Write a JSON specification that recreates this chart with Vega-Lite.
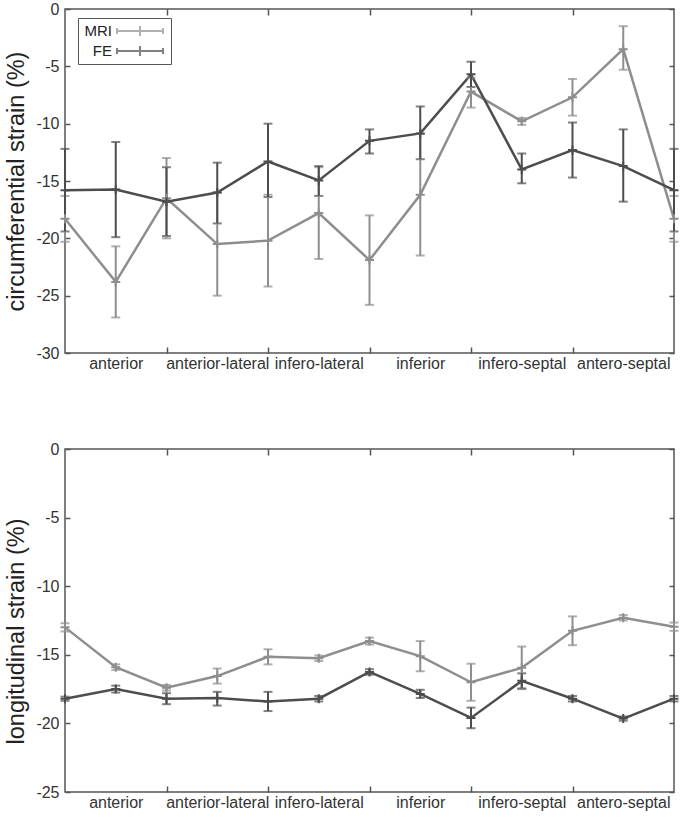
{
  "$schema": "https://vega.github.io/schema/vega-lite/v6.json",
  "background": "white",
  "padding": {"left": 4, "top": 0, "right": 2, "bottom": 0},
  "spacing": 68,
  "datasets": {
    "circ": [
      {"i": 0, "s": "MRI", "m": -18.3, "lo": -20.3, "hi": -16.3},
      {"i": 1, "s": "MRI", "m": -23.8, "lo": -26.9, "hi": -20.7},
      {"i": 2, "s": "MRI", "m": -16.5, "lo": -20.0, "hi": -13.0},
      {"i": 3, "s": "MRI", "m": -20.5, "lo": -25.0, "hi": -16.0},
      {"i": 4, "s": "MRI", "m": -20.2, "lo": -24.2, "hi": -16.2},
      {"i": 5, "s": "MRI", "m": -17.8, "lo": -21.8, "hi": -13.8},
      {"i": 6, "s": "MRI", "m": -21.9, "lo": -25.8, "hi": -18.0},
      {"i": 7, "s": "MRI", "m": -16.2, "lo": -21.5, "hi": -10.9},
      {"i": 8, "s": "MRI", "m": -7.2, "lo": -8.6, "hi": -6.0},
      {"i": 9, "s": "MRI", "m": -9.8, "lo": -10.1, "hi": -9.5},
      {"i": 10, "s": "MRI", "m": -7.7, "lo": -9.3, "hi": -6.1},
      {"i": 11, "s": "MRI", "m": -3.5, "lo": -5.3, "hi": -1.5},
      {"i": 12, "s": "MRI", "m": -18.3, "lo": -20.3, "hi": -16.3},
      {"i": 0, "s": "FE", "m": -15.8, "lo": -19.4, "hi": -12.2},
      {"i": 1, "s": "FE", "m": -15.75, "lo": -19.9, "hi": -11.6},
      {"i": 2, "s": "FE", "m": -16.8, "lo": -19.8, "hi": -13.8},
      {"i": 3, "s": "FE", "m": -16.0, "lo": -18.7, "hi": -13.4},
      {"i": 4, "s": "FE", "m": -13.3, "lo": -16.4, "hi": -10.0},
      {"i": 5, "s": "FE", "m": -14.95, "lo": -16.3, "hi": -13.7},
      {"i": 6, "s": "FE", "m": -11.5, "lo": -12.6, "hi": -10.5},
      {"i": 7, "s": "FE", "m": -10.85, "lo": -13.1, "hi": -8.5},
      {"i": 8, "s": "FE", "m": -5.7, "lo": -6.8, "hi": -4.6},
      {"i": 9, "s": "FE", "m": -14.0, "lo": -15.2, "hi": -12.6},
      {"i": 10, "s": "FE", "m": -12.3, "lo": -14.7, "hi": -9.9},
      {"i": 11, "s": "FE", "m": -13.7, "lo": -16.8, "hi": -10.5},
      {"i": 12, "s": "FE", "m": -15.8, "lo": -19.4, "hi": -12.2}
    ],
    "long": [
      {"i": 0, "s": "MRI", "m": -13.0, "lo": -13.3, "hi": -12.7},
      {"i": 1, "s": "MRI", "m": -15.9, "lo": -16.1, "hi": -15.7},
      {"i": 2, "s": "MRI", "m": -17.4, "lo": -17.6, "hi": -17.2},
      {"i": 3, "s": "MRI", "m": -16.55, "lo": -17.1, "hi": -16.0},
      {"i": 4, "s": "MRI", "m": -15.15, "lo": -15.7, "hi": -14.6},
      {"i": 5, "s": "MRI", "m": -15.25, "lo": -15.45, "hi": -15.05},
      {"i": 6, "s": "MRI", "m": -14.0, "lo": -14.25, "hi": -13.75},
      {"i": 7, "s": "MRI", "m": -15.1, "lo": -16.2, "hi": -14.0},
      {"i": 8, "s": "MRI", "m": -17.0, "lo": -18.35, "hi": -15.65},
      {"i": 9, "s": "MRI", "m": -15.95, "lo": -17.5, "hi": -14.4},
      {"i": 10, "s": "MRI", "m": -13.25, "lo": -14.3, "hi": -12.2},
      {"i": 11, "s": "MRI", "m": -12.3, "lo": -12.5, "hi": -12.1},
      {"i": 12, "s": "MRI", "m": -12.95, "lo": -13.25, "hi": -12.65},
      {"i": 0, "s": "FE", "m": -18.2, "lo": -18.35, "hi": -18.05},
      {"i": 1, "s": "FE", "m": -17.5, "lo": -17.75, "hi": -17.25},
      {"i": 2, "s": "FE", "m": -18.2, "lo": -18.6, "hi": -17.8},
      {"i": 3, "s": "FE", "m": -18.15, "lo": -18.7, "hi": -17.7},
      {"i": 4, "s": "FE", "m": -18.4, "lo": -19.1, "hi": -17.7},
      {"i": 5, "s": "FE", "m": -18.2, "lo": -18.4, "hi": -18.0},
      {"i": 6, "s": "FE", "m": -16.25, "lo": -16.45, "hi": -16.05},
      {"i": 7, "s": "FE", "m": -17.85, "lo": -18.15, "hi": -17.55},
      {"i": 8, "s": "FE", "m": -19.6, "lo": -20.35, "hi": -18.85},
      {"i": 9, "s": "FE", "m": -16.9, "lo": -17.45, "hi": -16.35},
      {"i": 10, "s": "FE", "m": -18.2, "lo": -18.4, "hi": -18.0},
      {"i": 11, "s": "FE", "m": -19.65, "lo": -19.8, "hi": -19.5},
      {"i": 12, "s": "FE", "m": -18.2, "lo": -18.4, "hi": -18.0}
    ]
  },
  "vconcat": [
    {
      "width": 609,
      "height": 344,
      "data": {"name": "circ"},
      "layer": [
        {
          "mark": {"type": "line", "strokeWidth": 2.5, "clip": false},
          "encoding": {
            "x": {"field": "i", "type": "quantitative",
              "scale": {"domain": [0, 12], "nice": false, "zero": false},
              "axis": {"orient": "bottom", "title": null, "values": [1, 3, 5, 7, 9, 11], "ticks": false, "labelPadding": 2,
                "labelExpr": "datum.value==1?'anterior':datum.value==3?'anterior-lateral':datum.value==5?'infero-lateral':datum.value==7?'inferior':datum.value==9?'infero-septal':'antero-septal'"}},
            "y": {"field": "m", "type": "quantitative",
              "scale": {"domain": [-30, 0], "nice": false, "zero": false},
              "axis": {"orient": "left", "values": [-30, -25, -20, -15, -10, -5, 0], "title": "circumferential strain (%)", "tickSize": -5, "labelPadding": 11,
                "labelExpr": "toString(datum.value)"}},
            "color": {"field": "s", "type": "nominal",
              "scale": {"domain": ["MRI", "FE"], "range": ["#8e8e8e", "#4d4d4d"]},
              "legend": {"orient": "none", "legendX": 13, "legendY": 9}}
          }
        },
        {
          "mark": {"type": "errorbar", "ticks": {"size": 9, "thickness": 2}, "thickness": 2},
          "encoding": {
            "x": {"field": "i", "type": "quantitative",
              "axis": {"orient": "bottom", "title": null, "values": [2, 4, 6, 8, 10], "labels": false, "tickSize": -6}},
            "y": {"field": "lo", "type": "quantitative",
              "axis": {"orient": "right", "title": null, "values": [-30, -25, -20, -15, -10, -5, 0], "labels": false, "tickSize": -5}},
            "y2": {"field": "hi"},
            "color": {"field": "s", "type": "nominal"}
          }
        },
        {
          "mark": {"type": "point", "shape": "M-1,0H1M0,-1V1", "size": 81, "strokeWidth": 2, "filled": false, "opacity": 1},
          "encoding": {
            "x": {"field": "i", "type": "quantitative",
              "axis": {"orient": "top", "title": null, "values": [2, 4, 6, 8, 10], "labels": false, "tickSize": -6}},
            "y": {"field": "m", "type": "quantitative", "axis": null},
            "color": {"field": "s", "type": "nominal"}
          }
        }
      ],
      "resolve": {"axis": {"x": "independent", "y": "independent"}}
    },
    {
      "width": 609,
      "height": 343,
      "data": {"name": "long"},
      "layer": [
        {
          "mark": {"type": "line", "strokeWidth": 2.5, "clip": false},
          "encoding": {
            "x": {"field": "i", "type": "quantitative",
              "scale": {"domain": [0, 12], "nice": false, "zero": false},
              "axis": {"orient": "bottom", "title": null, "values": [1, 3, 5, 7, 9, 11], "ticks": false, "labelPadding": 2,
                "labelExpr": "datum.value==1?'anterior':datum.value==3?'anterior-lateral':datum.value==5?'infero-lateral':datum.value==7?'inferior':datum.value==9?'infero-septal':'antero-septal'"}},
            "y": {"field": "m", "type": "quantitative",
              "scale": {"domain": [-25, 0], "nice": false, "zero": false},
              "axis": {"orient": "left", "values": [-25, -20, -15, -10, -5, 0], "title": "longitudinal strain (%)", "tickSize": -5, "labelPadding": 11,
                "labelExpr": "toString(datum.value)", "titleY": 182}},
            "color": {"field": "s", "type": "nominal",
              "scale": {"domain": ["MRI", "FE"], "range": ["#8e8e8e", "#4d4d4d"]},
              "legend": {"orient": "none", "legendX": 13, "legendY": 6}}
          }
        },
        {
          "mark": {"type": "errorbar", "ticks": {"size": 9, "thickness": 2}, "thickness": 2},
          "encoding": {
            "x": {"field": "i", "type": "quantitative",
              "axis": {"orient": "bottom", "title": null, "values": [2, 4, 6, 8, 10], "labels": false, "tickSize": -6}},
            "y": {"field": "lo", "type": "quantitative",
              "axis": {"orient": "right", "title": null, "values": [-25, -20, -15, -10, -5, 0], "labels": false, "tickSize": -5}},
            "y2": {"field": "hi"},
            "color": {"field": "s", "type": "nominal"}
          }
        },
        {
          "mark": {"type": "point", "shape": "M-1,0H1M0,-1V1", "size": 81, "strokeWidth": 2, "filled": false, "opacity": 1},
          "encoding": {
            "x": {"field": "i", "type": "quantitative",
              "axis": {"orient": "top", "title": null, "values": [2, 4, 6, 8, 10], "labels": false, "tickSize": -6}},
            "y": {"field": "m", "type": "quantitative", "axis": null},
            "color": {"field": "s", "type": "nominal"}
          }
        }
      ],
      "resolve": {"axis": {"x": "independent", "y": "independent"}}
    }
  ],
  "config": {
    "font": "Liberation Sans",
    "view": {"stroke": "#555555", "strokeWidth": 1.5},
    "axis": {
      "domain": false,
      "grid": false,
      "tickColor": "#555555",
      "tickWidth": 1.5,
      "labelFont": "Liberation Sans",
      "labelFontSize": 16,
      "labelColor": "#333333",
      "titleFont": "Liberation Sans",
      "titleFontSize": 23.5,
      "titleFontWeight": "normal",
      "titleColor": "#222222",
      "titlePadding": 7
    },
    "legend": {
      "title": null,
      "strokeColor": "#555555",
      "fillColor": "white",
      "padding": 4,
      "labelFont": "Liberation Sans",
      "labelFontSize": 15,
      "labelColor": "#222222",
      "labelAlign": "right",
      "labelOffset": -37,
      "symbolOffset": 49,
      "symbolSize": 235,
      "symbolType": "M-3,0H3M-3,-0.4V0.4M3,-0.4V0.4M0,-0.65V0.65",
      "symbolStrokeWidth": 2,
      "symbolFillColor": "transparent",
      "rowPadding": 2
    }
  }
}
